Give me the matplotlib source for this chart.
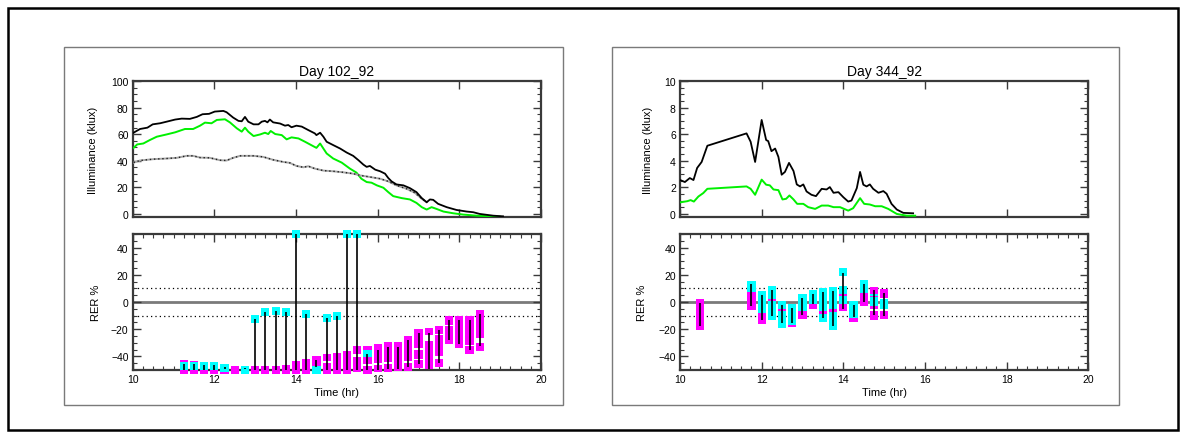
import matplotlib
matplotlib.use("Agg")
import matplotlib.pyplot as plt
from matplotlib.patches import Rectangle
from matplotlib.ticker import MultipleLocator

plt.rcParams['font.family'] = ['Liberation Sans', 'DejaVu Sans']

W, H = 1186, 439

# ---------------- Day 102_92 : illuminance (klux) ----------------
day102_total = [(10.02, 61.1), (10.18, 63.9), (10.36, 64.9), (10.49, 67.4), (10.67, 68.2),
                (10.83, 69.4), (11.04, 71.0), (11.20, 71.7), (11.40, 71.5), (11.57, 73.0),
                (11.71, 75.0), (11.87, 75.3), (12.01, 77.0), (12.22, 77.5), (12.30, 76.5),
                (12.46, 72.5), (12.59, 70.0), (12.67, 69.7), (12.75, 73.0), (12.83, 69.4),
                (12.96, 67.4), (13.08, 67.4), (13.16, 69.4), (13.24, 70.0), (13.30, 68.9),
                (13.36, 71.0), (13.44, 68.9), (13.61, 68.0), (13.73, 66.4), (13.81, 66.9),
                (13.89, 65.2), (14.01, 66.4), (14.14, 65.7), (14.30, 63.1), (14.46, 60.6),
                (14.50, 59.3), (14.59, 61.1), (14.67, 58.1), (14.75, 54.3), (14.91, 51.8),
                (15.08, 49.2), (15.24, 46.2), (15.40, 43.7), (15.53, 40.4), (15.65, 37.1),
                (15.73, 35.4), (15.81, 36.1), (15.94, 33.3), (16.06, 32.1), (16.18, 30.3),
                (16.26, 27.0), (16.34, 24.5), (16.46, 22.2), (16.63, 21.5), (16.79, 19.4),
                (16.95, 16.4), (17.08, 11.9), (17.20, 8.8), (17.28, 10.9), (17.36, 10.6),
                (17.48, 7.6), (17.69, 5.1), (17.93, 3.0), (18.18, 1.8), (18.34, 1.3),
                (18.50, 0.0), (18.83, -1.3), (19.07, -1.8)]

day102_green = [(10.02, 49.7), (10.11, 52.3), (10.26, 53.0), (10.42, 55.6), (10.59, 58.1),
                (10.83, 59.8), (11.04, 61.4), (11.28, 63.9), (11.48, 63.9), (11.65, 66.4),
                (11.77, 68.7), (11.93, 68.2), (12.06, 70.7), (12.26, 71.2), (12.38, 68.9),
                (12.55, 64.4), (12.67, 61.9), (12.75, 64.9), (12.83, 61.9), (12.96, 58.6),
                (13.12, 59.8), (13.24, 61.1), (13.32, 60.1), (13.38, 62.4), (13.49, 60.1),
                (13.65, 59.3), (13.77, 56.1), (13.89, 57.6), (14.06, 56.8), (14.22, 54.3),
                (14.42, 51.0), (14.50, 49.7), (14.59, 53.0), (14.67, 49.2), (14.75, 45.5),
                (14.91, 41.7), (15.12, 38.6), (15.32, 34.1), (15.48, 31.1), (15.60, 26.5),
                (15.73, 24.0), (15.85, 23.5), (15.98, 21.5), (16.14, 19.7), (16.26, 16.4),
                (16.38, 13.4), (16.59, 11.9), (16.79, 10.9), (16.95, 8.3), (17.08, 5.1),
                (17.20, 3.3), (17.32, 5.1), (17.44, 3.8), (17.61, 1.8), (17.85, 0.5),
                (18.10, -0.5), (18.42, -1.3), (18.83, -1.8), (18.99, -2.0)]

day102_diffuse = [(10.02, 38.6), (10.18, 40.2), (10.50, 41.2), (10.83, 41.7), (11.08, 42.2),
                  (11.32, 43.7), (11.48, 43.7), (11.65, 42.4), (11.89, 42.2), (12.14, 40.4),
                  (12.30, 40.2), (12.46, 42.2), (12.63, 43.7), (12.96, 43.7), (13.20, 42.9),
                  (13.44, 40.7), (13.69, 39.1), (13.85, 38.4), (14.01, 36.1), (14.18, 35.1),
                  (14.30, 35.9), (14.46, 34.1), (14.67, 32.6), (14.91, 32.1), (15.16, 31.3),
                  (15.40, 30.3), (15.57, 29.0), (15.81, 27.8), (16.06, 26.5), (16.26, 24.5),
                  (16.46, 21.5), (16.71, 18.9), (16.91, 15.9), (17.08, 11.4), (17.20, 8.8)]

# ---------------- Day 344_92 : illuminance (klux) ----------------
day344_total = [(10.02, 2.53), (10.12, 2.40), (10.24, 2.70), (10.33, 2.55), (10.42, 3.46),
                (10.53, 3.91), (10.67, 5.13), (11.63, 6.06), (11.73, 5.43), (11.84, 3.91),
                (12.00, 7.07), (12.11, 5.56), (12.16, 5.48), (12.24, 4.72), (12.33, 4.92),
                (12.41, 4.29), (12.49, 2.95), (12.57, 3.16), (12.67, 3.84), (12.78, 3.23),
                (12.86, 2.22), (12.94, 2.07), (13.02, 2.22), (13.10, 1.69), (13.22, 1.44),
                (13.33, 1.34), (13.47, 1.89), (13.59, 1.84), (13.67, 2.02), (13.76, 1.59),
                (13.88, 1.64), (14.00, 1.26), (14.12, 0.93), (14.20, 1.01), (14.33, 1.94),
                (14.41, 3.16), (14.49, 2.20), (14.57, 2.07), (14.65, 2.22), (14.73, 1.89),
                (14.86, 1.59), (14.98, 1.72), (15.06, 1.52), (15.18, 0.76), (15.31, 0.33),
                (15.47, 0.08), (15.71, 0.05)]

day344_green = [(10.02, 0.88), (10.18, 0.96), (10.26, 1.04), (10.34, 0.93), (10.45, 1.31),
                (10.57, 1.57), (10.67, 1.89), (11.63, 2.07), (11.73, 1.89), (11.84, 1.44),
                (12.00, 2.58), (12.11, 2.20), (12.20, 2.15), (12.29, 1.84), (12.41, 1.79),
                (12.51, 1.09), (12.60, 1.14), (12.68, 1.39), (12.78, 1.09), (12.87, 0.76),
                (13.02, 0.76), (13.14, 0.51), (13.31, 0.38), (13.47, 0.63), (13.63, 0.63),
                (13.76, 0.51), (13.92, 0.51), (14.12, 0.25), (14.24, 0.43), (14.41, 1.19),
                (14.51, 0.76), (14.65, 0.71), (14.78, 0.58), (14.94, 0.58), (15.10, 0.38),
                (15.31, 0.00), (15.55, -0.13), (15.76, -0.13)]

# ---------------- RER % : (time, low, high) ----------------
day102_rer_magenta = [(11.25, -53, -42.7), (11.5, -53, -43.2), (11.75, -53, -47), (12.0, -53, -47),
                      (12.25, -53, -48), (12.5, -53, -47.1), (13.0, -53, -47.1), (13.25, -53, -47.1),
                      (13.5, -53, -47.1), (13.75, -53, -46.4), (14.0, -53, -43.5), (14.25, -53, -42),
                      (14.5, -53, -39.8), (14.75, -53, -44.6), (14.75, -43.6, -38.3), (15.0, -53, -37.6),
                      (15.25, -53, -36.1), (15.5, -51.3, -40.5), (15.5, -38.3, -32.5),
                      (15.75, -53, -46.9), (15.75, -45.7, -32.3), (16.0, -51.8, -46.2),
                      (16.0, -45.2, -31), (16.25, -51.3, -45.4), (16.25, -44.4, -29.5),
                      (16.5, -50.8, -29.5), (16.75, -50.6, -44.9), (16.75, -43.2, -25.1),
                      (17.0, -48.6, -43), (17.0, -41.9, -35.3), (17.0, -33.9, -20),
                      (17.25, -49.3, -28.8), (17.25, -24.6, -19.2), (17.5, -47.6, -42),
                      (17.5, -40, -24.4), (17.5, -23.6, -17.8), (17.75, -31, -17.4),
                      (17.75, -16.6, -10.4), (18.0, -33.9, -10.4), (18.25, -38.3, -32.7),
                      (18.25, -31.7, -10.4), (18.5, -35.9, -30.3), (18.5, -26.8, -6)]

day102_rer_cyan = [(11.25, -49.8, -44.2), (11.5, -49.8, -44.2), (11.75, -49.8, -44.2),
                   (12.0, -49.8, -44.2), (12.25, -51.3, -45.7), (12.75, -53, -47.1),
                   (13.0, -15.6, -9.7), (13.25, -10.4, -4.6), (13.5, -9.4, -3.8),
                   (13.75, -10.4, -4.6), (14.0, 47.3, 52.7), (14.25, -11.9, -6),
                   (14.5, -53, -46.9), (14.75, -14.8, -9), (15.0, -13.4, -7.5),
                   (15.25, 47.3, 52.7), (15.5, 47.3, 52.7), (15.75, -40.8, -35)]

day102_rer_span = [(11.25, -49.8, -45.7), (11.5, -49.8, -45.7), (11.75, -49.8, -46.5),
                   (12.0, -49.8, -46.5), (12.25, -49, -47.8), (12.75, -49.5, -48.5),
                   (13.0, -49.8, -12.6), (13.25, -49.8, -7.5), (13.5, -49.8, -6.7),
                   (13.75, -49.8, -7.5), (14.0, -49.8, 50), (14.25, -49.8, -9),
                   (14.5, -47.6, -43), (14.75, -49.8, -12), (15.0, -49.8, -10.5),
                   (15.25, -49.8, 50), (15.5, -49.8, 50), (15.75, -49.8, -38),
                   (16.0, -49.8, -35), (16.25, -49, -33), (16.5, -49, -33),
                   (16.75, -47.6, -28), (17.0, -45.7, -23), (17.25, -49, -23),
                   (17.5, -45, -20.7), (17.75, -28, -13.4), (18.0, -31, -13.4),
                   (18.25, -35.3, -13.4), (18.5, -32.2, -9)]

day344_rer_magenta = [(10.5, -20.4, 2), (11.75, -6, 7.2), (12.0, -16.3, -8.2), (12.75, -18.6, -16.6),
                      (13.0, -12.6, -6.8), (13.25, -5.3, -1.8), (14.0, -6.5, -1.6),
                      (14.25, -14.5, -11.5), (14.5, -2.8, 6.4), (14.75, 6, 11.3),
                      (14.75, -5.5, -3.3), (14.75, -13.1, -6.3), (15.0, 3.3, 9.4),
                      (15.0, -12.6, -6.3)]

day344_rer_cyan = [(11.75, 7.2, 15.3), (12.0, -8.2, 7.9), (12.25, -13.5, 11.6), (12.5, -19.2, 0.6),
                   (12.75, -16.6, -1.6), (13.0, -6.8, 5.7), (13.25, -1.8, 8.6), (13.5, -14.5, 10.1),
                   (13.75, -20.7, 10.9), (14.0, -1.6, 11.6), (14.0, 18.9, 24.8),
                   (14.25, -11.5, 0.6), (14.5, 6.4, 16), (14.75, -3.3, 6), (15.0, -4.8, 2.4)]

day344_rer_marks = [(12.25, 0.8, 2), (12.5, -6.3, -5.3), (13.5, -8.7, -6.8), (13.75, -7.2, -5.3),
                    (14.0, 4.5, 5.7), (14.75, 3.8, 4.5)]

day344_rer_span = [(10.5, -17.5, -0.9), (11.75, -2.8, 13), (12.0, -13.1, 5.2), (12.25, -10.2, 8.6),
                   (12.5, -15.6, -2.3), (12.75, -15.6, -4.5), (13.0, -9.7, 2.8), (13.25, -1.6, 5.7),
                   (13.5, -11.8, 7.2), (13.75, -17.5, 7.9), (14.0, -4.8, 21.6), (14.25, -11.1, -2.3),
                   (14.5, 0, 13), (14.75, -9.7, 8.6), (15.0, -10.2, 6.5)]

titles = ["Day 102_92", "Day 344_92"]
illum_max = [100, 10]
illum_step = [20, 2]
illum_minor = [5, 0.5]

MAGENTA = "#ff00ff"
CYAN = "#00ffff"
GREEN = "#00f000"
SPINE = "#3a3a3a"
BOX_W = 0.2


def fig_rect(x0, y0, x1, y1):
    return [x0 / W, 1 - y1 / H, (x1 - x0) / W, (y1 - y0) / H]


def style_axes(ax, xlabels):
    for s in ax.spines.values():
        s.set_color(SPINE)
        s.set_linewidth(1.6)
    ax.tick_params(which='both', direction='in', top=True, right=True,
                   color=SPINE, labelsize=7.5, pad=3)
    ax.tick_params(which='major', length=6, width=1)
    ax.tick_params(which='minor', length=3, width=0.8)
    ax.set_xlim(10, 20)
    ax.xaxis.set_major_locator(MultipleLocator(2))
    if not xlabels:
        ax.tick_params(axis='x', labelbottom=False)


def split(rows):
    return [list(c) for c in zip(*rows)]


fig = plt.figure(figsize=(W / 100, H / 100), dpi=100)

# outer frame and panel frames
fig.patches.append(Rectangle((8 / W, 1 - 431 / H), 1170 / W, 422 / H, transform=fig.transFigure,
                             fill=False, edgecolor='black', linewidth=1.8))
for (x0, x1) in [(64, 563), (612, 1119)]:
    fig.patches.append(Rectangle((x0 / W, 1 - 406 / H), (x1 - x0) / W, 358 / H,
                                 transform=fig.transFigure, fill=False,
                                 edgecolor='#7a7a7a', linewidth=1.0))

panels = [
    dict(x0=132.7, total=day102_total, green=day102_green, diffuse=day102_diffuse,
         mag=day102_rer_magenta, cyan=day102_rer_cyan, marks=[], span=day102_rer_span,
         ill_lab=-0.084, rer_lab=-0.078),
    dict(x0=680.0, total=day344_total, green=day344_green, diffuse=None,
         mag=day344_rer_magenta, cyan=day344_rer_cyan, marks=day344_rer_marks,
         span=day344_rer_span, ill_lab=-0.065, rer_lab=-0.0816),
]

for i, p in enumerate(panels):
    x0 = p['x0']
    x1 = x0 + 408.3
    # illuminance panel
    ax = fig.add_axes(fig_rect(x0, 82, x1, 218))
    style_axes(ax, False)
    ymax = illum_max[i]
    ax.set_ylim(-0.023 * ymax, ymax)
    ax.yaxis.set_major_locator(MultipleLocator(illum_step[i]))
    ax.yaxis.set_minor_locator(MultipleLocator(illum_minor[i]))
    gt, gv = split(p['green'])
    ax.plot(gt, gv, color=GREEN, lw=1.4, zorder=3)
    if p['diffuse'] is not None:
        dt, dv = split(p['diffuse'])
        ax.plot(dt, dv, color='#a8a8a8', lw=1.4, zorder=3)
        ax.plot(dt, dv, color='#202020', lw=1.0, ls=(0, (1, 2)), zorder=3)
    tt, tv = split(p['total'])
    ax.plot(tt, tv, color='black', lw=1.3, zorder=4)
    ax.set_title(titles[i], fontsize=10, pad=4)
    ax.set_ylabel("Illuminance (klux)", fontsize=8)
    ax.yaxis.set_label_coords(p['ill_lab'], 0.5)

    # relative error panel
    bx = fig.add_axes(fig_rect(x0, 235, x1, 371))
    style_axes(bx, True)
    bx.set_ylim(-50, 50)
    bx.yaxis.set_major_locator(MultipleLocator(20))
    bx.yaxis.set_minor_locator(MultipleLocator(5))
    bx.xaxis.set_minor_locator(MultipleLocator(0.25))
    bx.axhline(0, color='#7a7a7a', lw=2.0, zorder=1)
    for yv in (10, -10):
        bx.axhline(yv, color='black', lw=0.9, ls=(0, (1, 2.5)), zorder=1)
    mt, mlo, mhi = split(p['mag'])
    bx.bar(mt, [h - l for l, h in zip(mlo, mhi)], bottom=mlo, width=BOX_W,
           color=MAGENTA, linewidth=0, clip_on=False, zorder=3)
    ct, clo, chi = split(p['cyan'])
    bx.bar(ct, [h - l for l, h in zip(clo, chi)], bottom=clo, width=BOX_W,
           color=CYAN, linewidth=0, clip_on=False, zorder=4)
    if p['marks']:
        kt, klo, khi = split(p['marks'])
        bx.bar(kt, [h - l for l, h in zip(klo, khi)], bottom=klo, width=BOX_W,
               color=MAGENTA, linewidth=0, clip_on=False, zorder=5)
    st, slo, shi = split(p['span'])
    bx.vlines(st, slo, shi, color='black', lw=1.2, zorder=6, clip_on=False)
    bx.set_xlim(10, 20)
    bx.set_ylabel("RER %", fontsize=8)
    bx.yaxis.set_label_coords(p['rer_lab'], 0.5)
    bx.set_xlabel("Time (hr)", fontsize=8, labelpad=2)

fig.savefig("out.png", dpi=100)
